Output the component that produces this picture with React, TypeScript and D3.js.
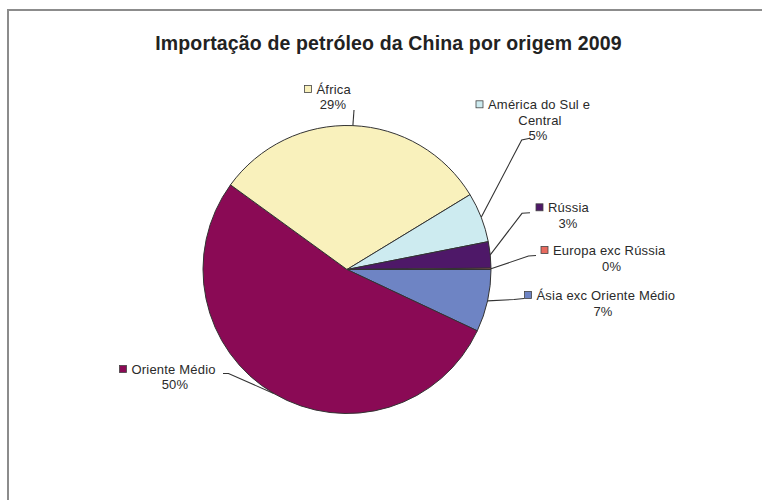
import React, { useEffect } from "react";
import * as d3 from "d3";

// ---- data ----
const categories = [
  "Ásia exc Oriente Médio",
  "Oriente Médio",
  "África",
  "América do Sul e Central",
  "Rússia",
  "Europa exc Rússia",
];
// shares as drawn (angle of each slice, %)
const shares = [7.0, 53.0, 31.3, 5.6, 2.95, 0.15];
// percentages printed on the labels
const percentLabels = ["7%", "50%", "29%", "5%", "3%", "0%"];
const title = "Importação de petróleo da China por origem 2009";

// ---- style / layout ----
const colors = ["#6E84C4", "#8A0A55", "#F9F1BC", "#CDEBF0", "#4E1868", "#E86A5E"];
const W = 762;
const H = 500;
const cx = 347;
const cy = 269.5;
const R = 144;
const FONT = "'Liberation Sans', Arial, sans-serif";
const FS = 13;

// label text lines + leader points (after the arc-edge point)
const labelLayout: { lines: (string | null)[]; pos: [number, number, "start" | "middle", boolean][]; leader: [number, number][] }[] = [
  { lines: ["Ásia exc Oriente Médio", null], pos: [[536.5, 295, "start", true], [603, 311.5, "middle", false]], leader: [[514, 299.5], [524, 298.5]] },
  { lines: ["Oriente Médio", null], pos: [[131.5, 369, "start", true], [175, 384.5, "middle", false]], leader: [[228.5, 373.5], [223, 373.5]] },
  { lines: ["África", null], pos: [[316.5, 89, "start", true], [333, 104.5, "middle", false]], leader: [[354, 110]] },
  { lines: ["América do Sul e", "Central", null], pos: [[488, 104.3, "start", true], [540, 120, "middle", false], [538, 135.5, "middle", false]], leader: [[521.7, 140], [530, 138.3]] },
  { lines: ["Rússia", null], pos: [[548, 207.3, "start", true], [568, 223, "middle", false]], leader: [[522, 213.3], [530, 212.7]] },
  { lines: ["Europa exc Rússia", null], pos: [[553, 250, "start", true], [611.7, 266.7, "middle", false]], leader: [[528.5, 256], [536, 255.5]] },
];

export default function App() {
  useEffect(() => {
    document.body.style.overflow = "hidden";
    document.body.style.margin = "0";
  }, []);
  const pie = d3
    .pie<number>()
    .sort(null)
    .value((d) => d)
    .startAngle(Math.PI / 2)
    .endAngle(Math.PI / 2 + 2 * Math.PI);
  const arcs = pie(shares);
  const arc = d3.arc<d3.PieArcDatum<number>>().innerRadius(0).outerRadius(R);

  return (
    <svg
      width={W}
      height={H}
      style={{ position: "absolute", left: 0, top: 0, background: "#fff", display: "block" }}
      fontFamily={FONT}
    >
      <rect x={0} y={0} width={W} height={H} fill="#fff" />
      <path d={`M${W + 5},10 H8 V${H + 5}`} fill="none" stroke="#8c8c8c" strokeWidth={2} />
      <text x={388.5} y={50} textAnchor="middle" fontSize={19.5} fontWeight="bold" fill="#222" letterSpacing={0.15}>
        {title}
      </text>
      <g transform={`translate(${cx},${cy})`}>
        {arcs.map((a, i) => (
          <path key={i} d={arc(a) || ""} fill={colors[i]} stroke="#333" strokeWidth={1} strokeLinejoin="round" />
        ))}
      </g>
      {arcs.map((a, i) => {
        const mid = (a.startAngle + a.endAngle) / 2;
        const ex = cx + R * Math.sin(mid);
        const ey = cy - R * Math.cos(mid);
        const L = labelLayout[i];
        const pts: [number, number][] = [[ex, ey], ...L.leader];
        const line = d3.line()(pts) || "";
        return (
          <g key={i}>
            <path d={line} fill="none" stroke="#333" strokeWidth={1.1} />
            {L.lines.map((t, j) => {
              const [x, y, anchor, key] = L.pos[j];
              const txt = t === null ? percentLabels[i] : t;
              return (
                <g key={j}>
                  {key && (
                    <rect x={x - 12} y={y - 3.5} width={7} height={7} fill={colors[i]} stroke="#444" strokeWidth={0.8} />
                  )}
                  <text x={x} y={y + 4.6} textAnchor={anchor} fontSize={FS} fill="#2a2a2a" letterSpacing={0.2}>
                    {txt}
                  </text>
                </g>
              );
            })}
          </g>
        );
      })}
    </svg>
  );
}
